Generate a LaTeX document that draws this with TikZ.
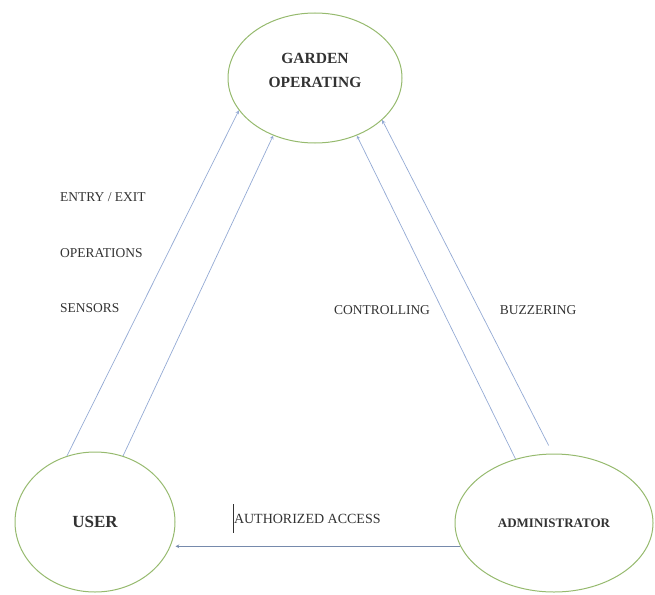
\documentclass[tikz,border=0pt]{standalone}
\usepackage{fontspec}
\setmainfont{Liberation Serif}
\usepackage{xcolor}
\usetikzlibrary{shapes.geometric}
\usetikzlibrary{arrows}

\definecolor{ucgreen}{RGB}{150,186,110}
\definecolor{flowblue}{RGB}{148,170,212}
\definecolor{accessblue}{RGB}{118,138,172}
\definecolor{labelgray}{RGB}{50,50,50}

\tikzset{
  usecase/.style={ellipse, draw=ucgreen, line width=1pt, inner sep=0pt, text=labelgray},
  flow/.style={->, draw=flowblue, line width=0.7pt},
  flowlabel/.style={text=labelgray, inner sep=0pt, font=\fontsize{13.5}{15}\selectfont}
}

\begin{document}
\begin{tikzpicture}[x=1pt, y=-1pt, >=stealth]
            \useasboundingbox (0,0) rectangle (655,594);
            % use cases
            \node[usecase, minimum width=174pt, minimum height=130pt, align=center,
                  font=\fontsize{15.5}{24}\selectfont\bfseries] (garden) at (315,78) {GARDEN\\OPERATING\\[-8pt]};
            \node[usecase, minimum width=160pt, minimum height=140pt,
                  font=\fontsize{17}{20}\selectfont\bfseries] (user) at (95,522) {USER};
            \node[usecase, minimum width=198pt, minimum height=138pt,
                  font=\fontsize{13}{16}\selectfont\bfseries] (admin) at (554,523) {ADMINISTRATOR};
            % flows
            \draw[flow] (user.113) -- (garden.203);
            \draw[flow] (user.67) -- (garden.234);
            \draw[flow] (admin.121) -- (garden.306);
            \draw[flow, shorten <=9pt] (admin.91) -- (garden.328);
            \draw[flow, draw=accessblue] (admin.194) -- (admin.194 -| user.east);
            % labels
            \node[flowlabel, anchor=west] (entry) at (60,197) {ENTRY / EXIT};
            \node[flowlabel, anchor=west] (operations) at (60,253) {OPERATIONS};
            \node[flowlabel, anchor=west] (sensors) at (60,308) {SENSORS};
            \node[flowlabel] (controlling) at (382,310) {CONTROLLING};
            \node[flowlabel] (buzzering) at (538,310) {BUZZERING};
            \node[flowlabel, anchor=base west, font=\fontsize{14}{16}\selectfont] (authorized)
                  at (233,523) {\rule[-9.5pt]{0.8pt}{29pt}AUTHORIZED ACCESS};
\end{tikzpicture}
\end{document}
